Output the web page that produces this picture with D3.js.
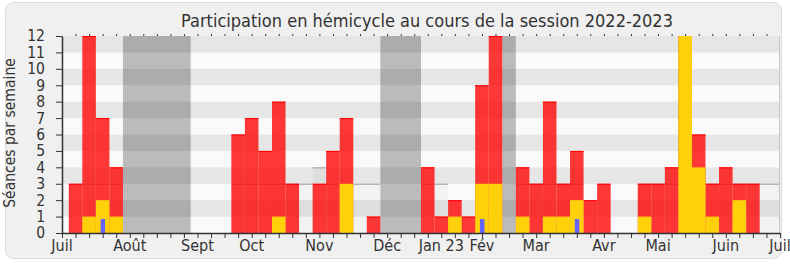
<!DOCTYPE html>
<html>
<head>
<meta charset="utf-8">
<script src="https://cdn.jsdelivr.net/npm/d3@7"></script>
<style>
  body { margin: 0; background: #fff; }
  svg { display: block; font-family: 'DejaVu Sans Condensed', 'DejaVu Sans', sans-serif; }
</style>
</head>
<body>
<div id="chart"></div>
<script>
// weeks of the session, bar i sits on week tick i+1
const presences = [3, 12, 7, 4, 0, 0, 0, 0, 0, 0, 0, 0, 6, 7, 5, 8, 3, 0, 3, 5, 7, 0, 1, 0, 0, 0,
  4, 1, 2, 1, 9, 12, 0, 4, 3, 8, 3, 5, 2, 3, 0, 0, 3, 3, 4, 12, 6, 3, 4, 3, 3, 0, 0];
const interventions = [0, 1, 2, 1, 0, 0, 0, 0, 0, 0, 0, 0, 0, 0, 0, 1, 0, 0, 0, 0, 3, 0, 0, 0, 0, 0,
  0, 0, 1, 0, 3, 3, 0, 1, 0, 1, 1, 2, 0, 0, 0, 0, 1, 0, 0, 12, 4, 1, 0, 2, 0, 0, 0];
const questions = [0, 0, 0.85, 0, 0, 0, 0, 0, 0, 0, 0, 0, 0, 0, 0, 0, 0, 0, 0, 0, 0, 0, 0, 0, 0, 0,
  0, 0, 0, 0, 0.85, 0, 0, 0, 0, 0, 0, 0.85, 0, 0, 0, 0, 0, 0, 0, 0, 0, 0, 0, 0, 0, 0, 0];
const mediane = [0, 3, 3, 3, 0, 0, 0, 0, 0, 0, 0, 0, 3, 3, 3, 3, 3, 3, 4, 3, 3, 3, 3, 0, 0, 0,
  3, 3, 0, 0, 3, 3, 0, 3, 3, 3, 3, 3, 0, 0, 0, 0, 3, 3, 3, 3, 3, 3, 3, 3, 3, 3, 3];
const vacances = [[4, 8], [23, 25], [32, 32]];
const monthLabels = ["Juil", "Août", "Sept", "Oct", "Nov", "Déc", "Jan 23", "Fév", "Mar", "Avr", "Mai", "Juin", "Juil"];
const monthWeeks = [0, 5, 10, 14, 19, 24, 28, 31, 35, 40, 44, 49, 53];
const nbWeeks = 53;

const W = 790, H = 267;
const margin = { top: 36, right: 10, bottom: 34, left: 62 };

const svg = d3.select("#chart").append("svg")
  .attr("width", W)
  .attr("height", H);

// frame
svg.append("rect")
  .attr("x", 5.5).attr("y", 2.5)
  .attr("width", 776).attr("height", 256)
  .attr("rx", 8)
  .attr("fill", "#f0f0f0")
  .attr("stroke", "#dcdcdc");

const x = d3.scaleLinear().domain([0, nbWeeks]).range([margin.left, W - margin.right]);
const y = d3.scaleLinear().domain([0, 12]).range([H - margin.bottom, margin.top]);

svg.append("clipPath").attr("id", "plot")
  .append("rect")
  .attr("x", x(0)).attr("y", y(12))
  .attr("width", x(nbWeeks) - x(0)).attr("height", y(0) - y(12));

const plot = svg.append("g").attr("clip-path", "url(#plot)");

// background stripes
plot.selectAll(".stripe")
  .data(d3.range(12))
  .enter().append("rect")
  .attr("class", "stripe")
  .attr("x", x(0))
  .attr("width", x(nbWeeks) - x(0))
  .attr("y", d => y(d + 1))
  .attr("height", d => y(d) - y(d + 1))
  .attr("fill", d => d % 2 === 0 ? "#fafafa" : "#e6e6e6");

// holidays
plot.selectAll(".vac")
  .data(vacances)
  .enter().append("rect")
  .attr("class", "vac")
  .attr("x", d => x(d[0] + 0.5))
  .attr("width", d => x(d[1] + 1.5) - x(d[0] + 0.5))
  .attr("y", y(12))
  .attr("height", y(0) - y(12))
  .attr("fill", "#000")
  .attr("fill-opacity", 0.25);

const weeks = d3.range(presences.length);

// median of all deputies
const med = weeks.filter(i => mediane[i] > 0);
plot.selectAll(".med")
  .data(med)
  .enter().append("rect")
  .attr("class", "med")
  .attr("x", i => x(i + 0.5))
  .attr("width", x(1) - x(0))
  .attr("y", i => y(mediane[i]))
  .attr("height", i => y(0) - y(mediane[i]))
  .attr("fill", "#000")
  .attr("fill-opacity", 0.03);
plot.selectAll(".med-line")
  .data(med)
  .enter().append("line")
  .attr("class", "med-line")
  .attr("x1", i => x(i + 0.5))
  .attr("x2", i => x(i + 1.5))
  .attr("y1", i => y(mediane[i]) + 0.5)
  .attr("y2", i => y(mediane[i]) + 0.5)
  .attr("stroke", "#aaa")
  .attr("stroke-width", 1.2);

// presences
const pres = weeks.filter(i => presences[i] > 0);
plot.selectAll(".pres")
  .data(pres)
  .enter().append("rect")
  .attr("class", "pres")
  .attr("x", i => x(i + 0.5))
  .attr("width", x(1) - x(0))
  .attr("y", i => y(presences[i]))
  .attr("height", i => y(0) - y(presences[i]))
  .attr("fill", "#ff0000")
  .attr("fill-opacity", 0.78);
plot.selectAll(".pres-top")
  .data(pres)
  .enter().append("line")
  .attr("class", "pres-top")
  .attr("x1", i => x(i + 0.5))
  .attr("x2", i => x(i + 1.5))
  .attr("y1", i => y(presences[i]) + 0.5)
  .attr("y2", i => y(presences[i]) + 0.5)
  .attr("stroke", "#ff0000")
  .attr("stroke-width", 1);

// interventions
plot.selectAll(".interv")
  .data(weeks.filter(i => interventions[i] > 0))
  .enter().append("rect")
  .attr("class", "interv")
  .attr("x", i => x(i + 0.5))
  .attr("width", x(1) - x(0))
  .attr("y", i => y(interventions[i]))
  .attr("height", i => y(0) - y(interventions[i]))
  .attr("fill", "#ffd10b");

// questions
plot.selectAll(".quest")
  .data(weeks.filter(i => questions[i] > 0))
  .enter().append("rect")
  .attr("class", "quest")
  .attr("x", i => x(i + 1) - 2)
  .attr("width", 4.5)
  .attr("y", i => y(questions[i]))
  .attr("height", i => y(0) - y(questions[i]))
  .attr("fill", "#6464ff");

// right border of plot
svg.append("line")
  .attr("x1", x(nbWeeks) - 0.5).attr("x2", x(nbWeeks) - 0.5)
  .attr("y1", y(12)).attr("y2", y(0))
  .attr("stroke", "#c8c8c8");

// axes
const yAxis = svg.append("g")
  .attr("transform", `translate(${x(0)},0)`)
  .call(d3.axisLeft(y).ticks(12).tickSize(6).tickPadding(11).tickSizeOuter(0));

const xAxis = svg.append("g")
  .attr("transform", `translate(0,${y(0)})`)
  .call(d3.axisBottom(x)
    .tickValues(d3.range(nbWeeks + 1))
    .tickSize(5).tickSizeOuter(0)
    .tickFormat(() => ""));

svg.append("g")
  .attr("transform", `translate(0,${y(0)})`)
  .selectAll("text")
  .data(monthWeeks)
  .enter().append("text")
  .attr("x", d => x(d))
  .attr("y", 18)
  .attr("text-anchor", "middle")
  .attr("fill", "#333")
  .style("font-size", "16px")
  .text((d, i) => monthLabels[i]);

const topAxis = svg.append("g")
  .attr("transform", `translate(0,${y(12)})`)
  .call(d3.axisTop(x).tickValues(d3.range(1, nbWeeks)).tickSize(2).tickFormat(() => ""));
topAxis.select(".domain").remove();

[yAxis, xAxis, topAxis].forEach(a => {
  a.selectAll("line").attr("stroke", "#333");
  a.selectAll(".domain").attr("stroke", "#333").attr("stroke-width", 1.5);
});
yAxis.selectAll("text").attr("fill", "#333").style("font-size", "15.5px");
yAxis.attr("font-family", null);
xAxis.attr("font-family", null);

// titles
svg.append("text")
  .attr("x", 427)
  .attr("y", 26.5)
  .attr("text-anchor", "middle")
  .attr("fill", "#333")
  .style("font-size", "18px")
  .text("Participation en hémicycle au cours de la session 2022-2023");

svg.append("text")
  .attr("transform", "translate(15,133) rotate(-90)")
  .attr("text-anchor", "middle")
  .attr("fill", "#333")
  .style("font-size", "15.5px")
  .text("Séances par semaine");
</script>
</body>
</html>
